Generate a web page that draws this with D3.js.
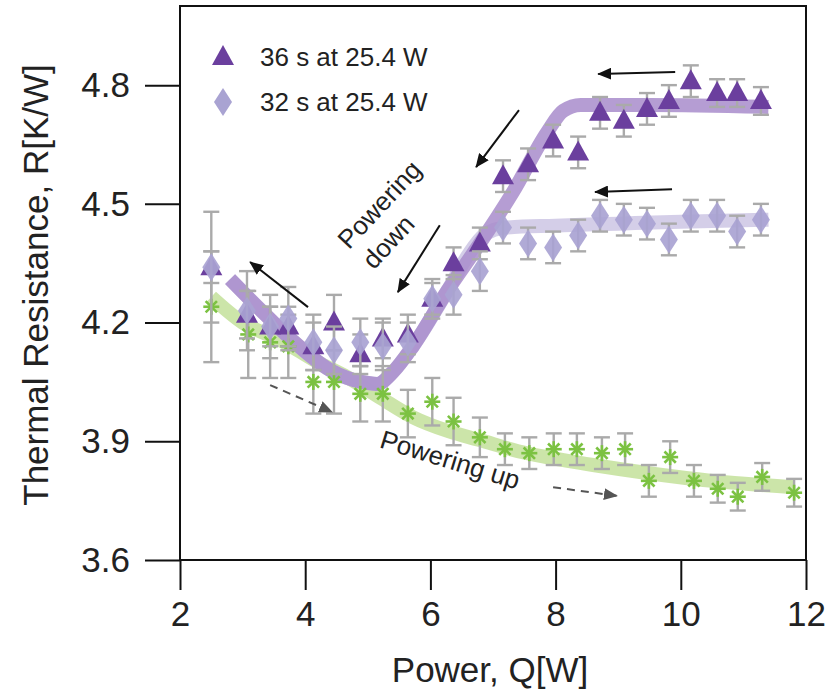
<!DOCTYPE html>
<html><head><meta charset="utf-8">
<script src="https://cdn.jsdelivr.net/npm/d3@7"></script>
<style>body{margin:0;background:#fff}svg{display:block}text{font-family:"Liberation Sans",Arial,sans-serif;fill:#222}</style>
</head><body><svg id="c" width="827" height="694"></svg>
<script>
// ---- data ----
const xTicks = [2,4,6,8,10,12];
const yTicks = [3.6,3.9,4.2,4.5,4.8];
const xDown = [2.5,3.07,3.44,3.73,4.13,4.46,4.88,5.24,5.64,6.03,6.37,6.79,7.16,7.56,7.96,8.36,8.71,9.09,9.46,9.81,10.16,10.58,10.9,11.28];
const r36 = [4.34,4.22,4.19,4.19,4.14,4.20,4.12,4.16,4.17,4.26,4.35,4.40,4.57,4.60,4.66,4.63,4.73,4.71,4.74,4.76,4.81,4.78,4.78,4.76];
const e36 = [0.04,0.06,0.05,0.05,0.06,0.07,0.05,0.05,0.05,0.04,0.04,0.04,0.04,0.04,0.04,0.04,0.04,0.04,0.04,0.04,0.04,0.035,0.035,0.035];
const r32 = [4.34,4.23,4.19,4.21,4.15,4.13,4.15,4.14,4.15,4.26,4.27,4.33,4.44,4.40,4.39,4.42,4.47,4.46,4.45,4.41,4.47,4.47,4.43,4.46];
const e32 = [0.14,0.10,0.08,0.08,0.07,0.06,0.06,0.06,0.05,0.05,0.05,0.05,0.04,0.04,0.04,0.04,0.04,0.04,0.04,0.04,0.04,0.04,0.04,0.04];
const xUp = [2.5,3.09,3.44,3.73,4.13,4.46,4.88,5.24,5.64,6.03,6.37,6.79,7.19,7.58,7.97,8.34,8.74,9.11,9.49,9.83,10.21,10.59,10.91,11.3,11.81];
const rUp = [4.24,4.17,4.15,4.14,4.05,4.05,4.02,4.02,3.97,4.00,3.95,3.91,3.88,3.87,3.88,3.88,3.87,3.88,3.80,3.86,3.80,3.78,3.76,3.81,3.77];
const eUp = [0.14,0.11,0.09,0.08,0.08,0.08,0.07,0.07,0.06,0.06,0.06,0.05,0.04,0.04,0.04,0.04,0.04,0.04,0.04,0.04,0.04,0.035,0.035,0.035,0.035];
// fitted trend bands
const fit36X = [2.8,3.3,3.76,4.4,4.9,5.15,5.4,5.72,6.27,6.79,7.32,7.86,8.12,8.4,9.5,11.4];
const fit36Y = [4.31,4.23,4.16,4.08,4.05,4.045,4.075,4.14,4.28,4.40,4.53,4.68,4.735,4.75,4.75,4.745];
const fit32X = [2.8,3.3,3.76,4.4,4.9,5.15,5.4,5.72,6.27,6.6,6.85,7.2,8.0,9.0,10.0,11.4];
const fit32Y = [4.31,4.23,4.16,4.08,4.05,4.045,4.075,4.14,4.28,4.37,4.42,4.44,4.445,4.45,4.455,4.46];
const fitUpX = [2.5,3.0,3.6,4.2,4.67,5.2,5.72,6.3,6.79,7.4,7.86,8.6,9.46,10.5,11.8];
const fitUpY = [4.265,4.2,4.156,4.1,4.062,4.01,3.961,3.925,3.903,3.875,3.86,3.84,3.82,3.80,3.784];
const legendLabels = ["36 s at 25.4 W","32 s at 25.4 W"];
// annotation arrows [x1,y1,x2,y2] in data units
const solidArrows = [[9.91,4.833,8.68,4.828],[9.86,4.537,8.63,4.530],[7.415,4.737,6.73,4.593],[6.15,4.446,5.48,4.277],[4.045,4.239,3.12,4.353]];
const dashArrows = [[3.44,4.042,4.43,3.974],[7.96,3.784,8.98,3.762]];

// ---- layout ----
const svg = d3.select("#c");
const x = d3.scaleLinear().domain([2,12]).range([180,806]);
const y = d3.scaleLinear().domain([3.6,5.0]).range([560,6]);
const C36="#6b3f9e", C32="#a9a3d2", CUP="#7cc242", CERR="#aaaaaa";

const defs = svg.append("defs");
function mk(id,color){
  defs.append("marker").attr("id",id).attr("viewBox","0 0 14 12").attr("refX",13).attr("refY",6)
   .attr("markerWidth",14).attr("markerHeight",12).attr("markerUnits","userSpaceOnUse").attr("orient","auto")
   .append("path").attr("d","M0,0L14,6L0,12Z").attr("fill",color);
}
mk("ah","#111"); mk("ahg","#555");

// bands
const line = d3.line().x(d=>x(d[0])).y(d=>y(d[1])).curve(d3.curveMonotoneX);
svg.append("path").attr("d",line(fitUpX.map((v,i)=>[v,fitUpY[i]]))).attr("fill","none")
  .attr("stroke","#c6e2a0").attr("stroke-width",14).attr("opacity",0.9);
svg.append("path").attr("d",line(fit32X.map((v,i)=>[v,fit32Y[i]]))).attr("fill","none")
  .attr("stroke","#cfc9e6").attr("stroke-width",14).attr("opacity",0.9);
svg.append("path").attr("d",line(fit36X.map((v,i)=>[v,fit36Y[i]]))).attr("fill","none")
  .attr("stroke","#a88ccb").attr("stroke-width",14).attr("opacity",0.85);

// error bars
function errBars(xs,ys,es){
  const g = svg.append("g").attr("stroke",CERR).attr("stroke-width",2.4).attr("fill","none");
  xs.forEach((xv,i)=>{
    const px=x(xv), t=y(ys[i]+es[i]), b=y(ys[i]-es[i]);
    g.append("line").attr("x1",px).attr("x2",px).attr("y1",t).attr("y2",b);
    g.append("line").attr("x1",px-8).attr("x2",px+8).attr("y1",t).attr("y2",t);
    g.append("line").attr("x1",px-8).attr("x2",px+8).attr("y1",b).attr("y2",b);
  });
}
const triPath="M0,-12L11,8L-11,8Z", diaPath="M0,-14L9,0L0,14L-9,0Z";
function star(g,px,py){
  const s=g.append("g").attr("transform",`translate(${px},${py})`).attr("stroke",CUP).attr("stroke-width",2.6);
  [0,45,90,135].forEach(a=>{const r=8,c=Math.cos(a*Math.PI/180)*r,sn=Math.sin(a*Math.PI/180)*r;
    s.append("line").attr("x1",-c).attr("y1",-sn).attr("x2",c).attr("y2",sn);});
}
errBars(xUp,rUp,eUp);
const gUp=svg.append("g"); xUp.forEach((v,i)=>star(gUp,x(v),y(rUp[i])));
errBars(xDown,r36,e36);
svg.append("g").selectAll("path").data(xDown).join("path").attr("d",triPath)
  .attr("transform",(d,i)=>`translate(${x(d)},${y(r36[i])})`).attr("fill",C36);
errBars(xDown,r32,e32);
svg.append("g").selectAll("path").data(xDown).join("path").attr("d",diaPath)
  .attr("transform",(d,i)=>`translate(${x(d)},${y(r32[i])})`).attr("fill",C32).attr("opacity",0.92);

// arrows
svg.append("g").selectAll("line").data(solidArrows).join("line")
  .attr("x1",d=>x(d[0])).attr("y1",d=>y(d[1])).attr("x2",d=>x(d[2])).attr("y2",d=>y(d[3]))
  .attr("stroke","#111").attr("stroke-width",2).attr("marker-end","url(#ah)");
svg.append("g").selectAll("line").data(dashArrows).join("line")
  .attr("x1",d=>x(d[0])).attr("y1",d=>y(d[1])).attr("x2",d=>x(d[2])).attr("y2",d=>y(d[3]))
  .attr("stroke","#555").attr("stroke-width",2).attr("stroke-dasharray","8,6").attr("marker-end","url(#ahg)");

// annotation text
const tDown = svg.append("text").attr("transform",`translate(${x(4.70)},${y(4.383)}) rotate(-47)`).attr("font-size",26);
tDown.append("tspan").attr("x",0).attr("y",0).text("Powering");
tDown.append("tspan").attr("x",2).attr("y",32).text("down");
svg.append("text").attr("transform",`translate(${x(5.17)},${y(3.885)}) rotate(17)`).attr("font-size",26).text("Powering up");

// legend
svg.append("path").attr("d",triPath).attr("transform","translate(223,57)").attr("fill",C36);
svg.append("path").attr("d",diaPath).attr("transform","translate(223,102)").attr("fill",C32);
svg.append("text").attr("x",260).attr("y",66).attr("font-size",26).text(legendLabels[0]);
svg.append("text").attr("x",260).attr("y",111).attr("font-size",26).text(legendLabels[1]);

// axes / frame
svg.append("rect").attr("x",180).attr("y",6).attr("width",626).attr("height",554).attr("fill","none").attr("stroke","#111").attr("stroke-width",2);
const xa = svg.append("g").attr("transform","translate(0,560)").call(d3.axisBottom(x).tickValues(xTicks).tickSize(30).tickPadding(11).tickFormat(d3.format("d")));
const ya = svg.append("g").attr("transform","translate(180,0)").call(d3.axisLeft(y).tickValues(yTicks).tickSize(35).tickPadding(15).tickFormat(d3.format(".1f")));
[xa,ya].forEach(a=>{a.select(".domain").remove();a.selectAll("line").attr("stroke","#111").attr("stroke-width",2);
  a.selectAll("text").attr("font-size",35).attr("font-family","'Liberation Sans',Arial,sans-serif").attr("fill","#222");});
svg.append("text").attr("x",490).attr("y",682).attr("text-anchor","middle").attr("font-size",35).text("Power, Q[W]");
svg.append("text").attr("transform","translate(36,285) rotate(-90)").attr("text-anchor","middle").attr("dy","0.35em").attr("font-size",35).text("Thermal Resistance, R[K/W]");
</script></body></html>
